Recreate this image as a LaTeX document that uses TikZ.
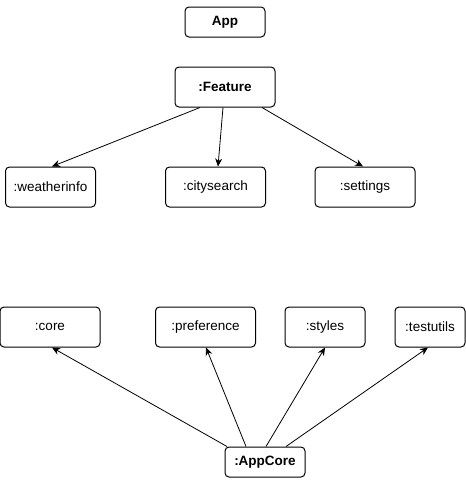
\documentclass[tikz,border=0pt]{standalone}
\usepackage{fontspec}
\setmainfont{Liberation Sans}
\usetikzlibrary{arrows.meta,calc}
\begin{document}
\begin{tikzpicture}[x=1pt,y=-1pt,
  box/.style={draw=black,line width=1pt,rounded corners=4pt,fill=white,inner sep=0pt,font=\fontsize{13.5}{16}\selectfont},
  bbox/.style={box,font=\fontsize{13.5}{16}\selectfont\bfseries},
  arr/.style={line width=0.8pt,-{Stealth[length=8pt,width=7pt,inset=2.5pt]}}]
\useasboundingbox (0,0) rectangle (466,485);
\node[bbox,minimum width=80pt,minimum height=30pt] (app) at (225,22) {App};
\node[bbox,minimum width=100pt,minimum height=40pt] (feat) at (225,87) {:Feature};
\node[box,minimum width=90pt,minimum height=40pt] (wi) at (50.5,187) {:weatherinfo};
\node[box,minimum width=100pt,minimum height=40pt] (cs) at (215.5,187) {:citysearch};
\node[box,minimum width=100pt,minimum height=40pt] (set) at (365,187) {:settings};
\node[box,minimum width=100pt,minimum height=40pt] (core) at (50,327) {:core};
\node[box,minimum width=100pt,minimum height=40pt] (pref) at (205.5,327) {:preference};
\node[box,minimum width=80pt,minimum height=40pt] (sty) at (325,327) {:styles};
\node[box,minimum width=70pt,minimum height=40pt] (tu) at (430,327) {:testutils};
\node[bbox,minimum width=80pt,minimum height=30pt] (ac) at (265,462) {:AppCore};
\draw[arr] ([xshift=-25pt]feat.south) -- ([xshift=1.5pt]wi.north);
\draw[arr] ([xshift=-2pt]feat.south) -- ([xshift=2.5pt]cs.north);
\draw[arr] ([xshift=37pt]feat.south) -- ([xshift=-2pt]set.north);
\draw[arr] ([xshift=-38pt]ac.north) -- ([xshift=2pt]core.south);
\draw[arr] ([xshift=-19pt]ac.north) -- ([xshift=0.5pt]pref.south);
\draw[arr] ([xshift=1pt]ac.north) -- ([xshift=0pt]sty.south);
\draw[arr] ([xshift=21pt]ac.north) -- ([xshift=-2pt]tu.south);
\end{tikzpicture}
\end{document}
